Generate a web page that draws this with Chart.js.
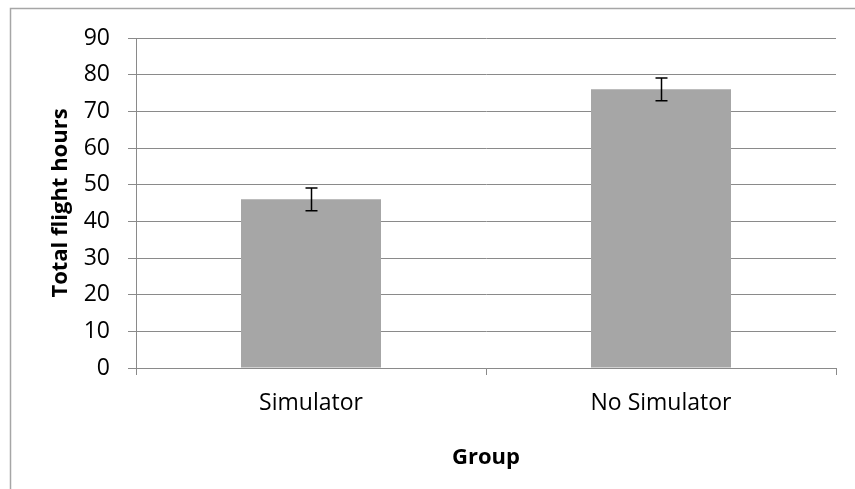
<!DOCTYPE html>
<html lang="en">
<head>
    <meta charset="UTF-8">
    <title>Total flight hours by group</title>
    <style>
        html, body { margin: 0; padding: 0; background: #fff; }
        #wrap { width: 855px; height: 489px; }
    </style>
</head>
<body>
    <div id="wrap"><canvas id="barChart" width="855" height="489"></canvas></div>

    <script src="https://cdn.jsdelivr.net/npm/chart.js"></script>

    <script>
        const categories = ["Simulator", "No Simulator"];
        const hours = [46, 76];
        const hoursErr = [3.1, 3.1];

        const FONT = "'Open Sans', 'DejaVu Sans', sans-serif";
        const GRID = '#8a8a8a';

        // outer frame of the chart box
        const framePlugin = {
            id: 'frame',
            beforeDraw(chart) {
                const c = chart.ctx;
                c.save();
                c.fillStyle = '#fff';
                c.fillRect(0, 0, chart.width, chart.height);
                c.strokeStyle = '#a6a6a6';
                c.lineWidth = 1.5;
                c.strokeRect(10.5, 8.5, 1000, 1000);
                c.restore();
            }
        };

        // error bars from the hoursErr array
        const errorBarPlugin = {
            id: 'errorBars',
            afterDatasetsDraw(chart) {
                const c = chart.ctx;
                const meta = chart.getDatasetMeta(0);
                const y = chart.scales.y;
                c.save();
                c.strokeStyle = '#000';
                c.lineWidth = 1.5;
                meta.data.forEach(function (bar, i) {
                    const top = y.getPixelForValue(hours[i] + hoursErr[i]);
                    const bot = y.getPixelForValue(hours[i] - hoursErr[i]);
                    const x = Math.round(bar.x) + 0.5;
                    c.beginPath();
                    c.moveTo(x, top);
                    c.lineTo(x, bot);
                    c.moveTo(x - 6, top);
                    c.lineTo(x + 6, top);
                    c.moveTo(x - 6, bot);
                    c.lineTo(x + 6, bot);
                    c.stroke();
                });
                c.restore();
            }
        };

        var ctx = document.getElementById('barChart').getContext('2d');

        var barChart = new Chart(ctx, {
            type: 'bar',
            data: {
                labels: categories,
                datasets: [{
                    label: 'Total flight hours',
                    data: hours,
                    backgroundColor: '#a6a6a6',
                    borderWidth: 0,
                    barPercentage: 0.4,
                    categoryPercentage: 1.0
                }]
            },
            options: {
                responsive: false,
                animation: false,
                layout: {
                    padding: { left: 0, right: 19, top: 38, bottom: 0 }
                },
                plugins: {
                    legend: { display: false },
                    tooltip: { enabled: false }
                },
                scales: {
                    x: {
                        offset: true,
                        grid: {
                            offset: true,
                            drawOnChartArea: false,
                            color: GRID,
                            tickLength: 7
                        },
                        border: { color: GRID, width: 1 },
                        ticks: {
                            color: '#000',
                            padding: 15,
                            font: { family: FONT, size: 23 }
                        },
                        title: {
                            display: true,
                            text: 'Group',
                            color: '#000',
                            padding: { top: 0, bottom: 18 },
                            font: { family: FONT, size: 22, weight: 'bold' }
                        },
                        afterFit(scale) {
                            scale.height = 121;
                        }
                    },
                    y: {
                        min: 0,
                        max: 90,
                        grid: {
                            color: GRID,
                            tickLength: 8
                        },
                        border: { color: GRID, width: 1 },
                        ticks: {
                            stepSize: 10,
                            color: '#000',
                            padding: 18,
                            font: { family: FONT, size: 23 }
                        },
                        title: {
                            display: true,
                            text: 'Total flight hours',
                            color: '#000',
                            padding: { top: 48, bottom: 0 },
                            font: { family: FONT, size: 22, weight: 'bold' }
                        },
                        afterFit(scale) {
                            scale.width = 136;
                            scale.paddingTop = 0;
                            scale.paddingBottom = 0;
                        }
                    }
                }
            },
            plugins: [framePlugin, errorBarPlugin]
        });
    </script>
</body>
</html>
